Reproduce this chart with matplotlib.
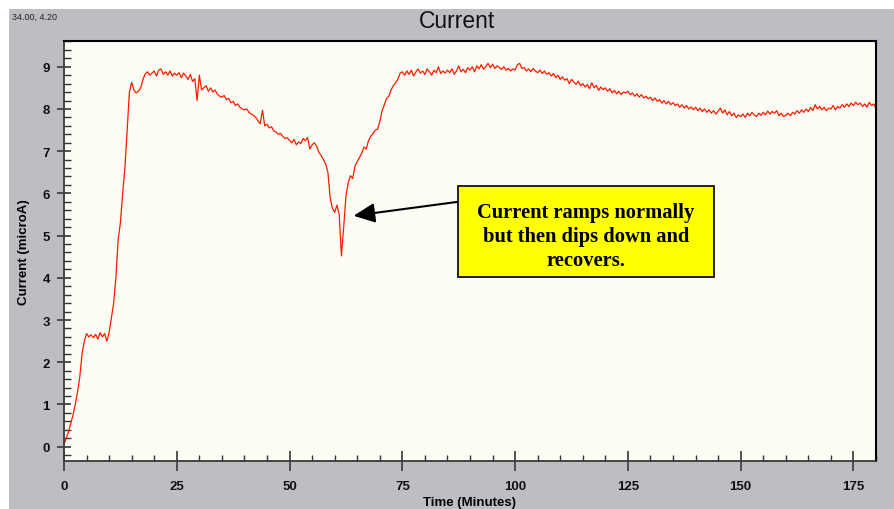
import numpy as np
import matplotlib
matplotlib.use("Agg")
import matplotlib.pyplot as plt
from matplotlib.patches import Rectangle
from matplotlib.ticker import MultipleLocator

# current trace, one sample every half minute from t = 0 to t = 180
sample_step = 0.5
current = [
  0.05, 0.20, 0.35, 0.55, 0.75, 1.00, 1.30, 1.65, 2.20, 2.50,   # 0-5
  2.68, 2.60, 2.65, 2.58, 2.66, 2.55, 2.70, 2.60, 2.68, 2.50,   # 5-10
  2.70, 3.05, 3.40, 4.00, 4.90, 5.30, 6.00, 6.60, 7.50, 8.40,   # 10-15
  8.63, 8.45, 8.38, 8.42, 8.50, 8.70, 8.83, 8.88, 8.80, 8.85,   # 15-20
  8.90, 8.78, 8.92, 8.95, 8.82, 8.88, 8.80, 8.90, 8.78, 8.85,   # 20-25
  8.80, 8.86, 8.74, 8.85, 8.78, 8.70, 8.82, 8.65, 8.72, 8.20,   # 25-30
  8.80, 8.45, 8.50, 8.55, 8.42, 8.50, 8.40, 8.45, 8.35, 8.30,   # 30-35
  8.28, 8.32, 8.22, 8.25, 8.15, 8.18, 8.08, 8.12, 8.04, 8.00,   # 35-40
  7.98, 8.00, 7.92, 7.88, 7.85, 7.80, 7.72, 7.65, 7.97, 7.60,   # 40-45
  7.64, 7.55, 7.58, 7.48, 7.45, 7.40, 7.42, 7.35, 7.30, 7.32,   # 45-50
  7.25, 7.20, 7.28, 7.15, 7.22, 7.18, 7.30, 7.25, 7.32, 7.05,   # 50-55
  7.15, 7.20, 7.12, 6.97, 6.90, 6.80, 6.70, 6.50, 5.90, 5.65,   # 55-60
  5.55, 5.72, 5.50, 4.52, 5.20, 5.94, 6.25, 6.42, 6.35, 6.65,   # 60-65
  6.75, 6.85, 6.95, 7.10, 7.05, 7.25, 7.35, 7.42, 7.50, 7.52,   # 65-70
  7.70, 7.95, 8.10, 8.25, 8.30, 8.45, 8.55, 8.62, 8.70, 8.85,   # 70-75
  8.88, 8.80, 8.90, 8.82, 8.92, 8.78, 8.88, 8.95, 8.85, 8.90,   # 75-80
  8.82, 8.95, 8.88, 8.80, 8.92, 8.86, 9.00, 8.84, 8.90, 8.85,   # 80-85
  8.92, 8.86, 8.95, 8.82, 8.90, 9.02, 8.88, 8.94, 8.86, 8.98,   # 85-90
  8.92, 9.00, 8.88, 9.02, 8.95, 9.05, 8.94, 9.00, 9.08, 8.98,   # 90-95
  9.06, 8.96, 9.02, 8.98, 8.94, 9.00, 8.92, 8.96, 8.90, 8.95,   # 95-100
  8.92, 9.05, 9.08, 8.96, 8.98, 8.90, 8.95, 8.88, 8.96, 8.90,   # 100-105
  8.86, 8.92, 8.84, 8.90, 8.82, 8.86, 8.78, 8.84, 8.74, 8.80,   # 105-110
  8.70, 8.76, 8.68, 8.72, 8.60, 8.70, 8.64, 8.58, 8.66, 8.55,   # 110-115
  8.60, 8.52, 8.58, 8.48, 8.62, 8.50, 8.56, 8.44, 8.52, 8.46,   # 115-120
  8.50, 8.42, 8.48, 8.38, 8.44, 8.36, 8.42, 8.34, 8.40, 8.38,   # 120-125
  8.42, 8.34, 8.38, 8.30, 8.36, 8.28, 8.34, 8.26, 8.30, 8.24,   # 125-130
  8.28, 8.20, 8.26, 8.18, 8.22, 8.14, 8.20, 8.12, 8.18, 8.10,   # 130-135
  8.15, 8.08, 8.12, 8.04, 8.10, 8.02, 8.08, 8.00, 8.05, 7.98,   # 135-140
  8.04, 7.96, 8.02, 7.94, 8.00, 7.92, 7.98, 7.90, 7.96, 7.88,   # 140-145
  7.95, 8.02, 7.90, 7.98, 7.86, 7.94, 7.84, 7.90, 7.80, 7.86,   # 145-150
  7.82, 7.88, 7.80, 7.90, 7.84, 7.92, 7.86, 7.82, 7.90, 7.85,   # 150-155
  7.92, 7.86, 7.95, 7.88, 7.94, 7.90, 7.96, 7.84, 7.90, 7.82,   # 155-160
  7.85, 7.90, 7.84, 7.92, 7.88, 7.96, 7.90, 7.98, 7.92, 8.00,   # 160-165
  7.94, 8.04, 7.96, 8.10, 8.00, 8.06, 7.98, 8.04, 7.96, 8.02,   # 165-170
  8.00, 8.08, 7.98, 8.06, 8.02, 8.10, 8.04, 8.12, 8.06, 8.14,   # 170-175
  8.08, 8.16, 8.10, 8.14, 8.06, 8.12, 8.04, 8.16, 8.08, 8.12,   # 175-180
  8.00,
]
time = np.arange(len(current)) * sample_step

note_lines = ["Current ramps normally", "but then dips down and", "recovers."]
note_tip = (64.2, 5.47)
note_tail = (87.3, 5.80)
note_box = (87.3, 4.02, 144.0, 6.17)  # x0, y0, x1, y1

W, H = 894, 510
fig = plt.figure(figsize=(W / 100, H / 100), dpi=100, facecolor="white")
# grey panel behind the chart
fig.patches.append(Rectangle((9 / W, 0), 1 - 9 / W, (H - 10) / H, transform=fig.transFigure,
                             facecolor="#bebdc3", edgecolor="none", zorder=-10))

ax = fig.add_axes([64 / W, (H - 462) / H, (876 - 64) / W, (462 - 42) / H])
ax.set_facecolor("#fdfdf6")
ax.plot(time, current, color="#ff1a00", lw=0.9)

ax.set_xlim(0, 180)
ax.set_ylim(-0.34, 9.61)
ax.xaxis.set_major_locator(MultipleLocator(25))
ax.xaxis.set_minor_locator(MultipleLocator(5))
ax.yaxis.set_major_locator(MultipleLocator(1))
ax.yaxis.set_minor_locator(MultipleLocator(0.2))

lab_font = dict(family="Liberation Sans", weight="bold", size=9.5)
ax.tick_params(axis="x", which="major", direction="inout", length=14.5, width=1.3,
               color="#444444", pad=6.5)
ax.tick_params(axis="x", which="minor", direction="in", length=4.5, width=1, color="#333333")
ax.tick_params(axis="y", which="major", direction="inout", length=9.5, width=1.3,
               color="#444444", pad=5.5)
ax.tick_params(axis="y", which="minor", direction="in", length=5, width=1, color="#333333")
for lab in ax.get_xticklabels() + ax.get_yticklabels():
    lab.set_fontproperties(lab_font)
    lab.set_color("#111111")

for side in ["top", "right"]:
    ax.spines[side].set_color("black")
    ax.spines[side].set_linewidth(1.5)
for side in ["left", "bottom"]:
    ax.spines[side].set_color("#3a3a3a")
    ax.spines[side].set_linewidth(1.3)

ax.set_xlabel("Time (Minutes)", fontdict=lab_font, labelpad=2.5)
ax.set_ylabel("Current (microA)", fontdict=lab_font, labelpad=9)

fig.text(457 / W, 1 - 22 / H, "Current", ha="center", va="center",
         family="Liberation Sans", size=16.5, color="#111111")
fig.text(12 / W, 1 - 17 / H, "34.00, 4.20", ha="left", va="center",
         family="Liberation Sans", size=6.5, color="#222222")

# call-out box with arrow pointing at the dip
x0, y0, x1, y1 = note_box
ax.add_patch(Rectangle((x0, y0), x1 - x0, y1 - y0, facecolor="#ffff00",
                       edgecolor="#111111", lw=1.3, zorder=3))
ax.text((x0 + x1) / 2, (y0 + y1) / 2 - 0.1, "\n".join(note_lines), ha="center", va="center",
        family="Liberation Serif", weight="bold", size=14.8, linespacing=1.27, zorder=4)
ax.annotate("", xy=note_tip, xytext=note_tail,
            arrowprops=dict(arrowstyle="-|>,head_length=0.65,head_width=0.3",
                            color="black", lw=1.5, mutation_scale=20, shrinkA=0, shrinkB=0),
            zorder=4)

fig.savefig("out.png", dpi=100, facecolor=fig.get_facecolor())
